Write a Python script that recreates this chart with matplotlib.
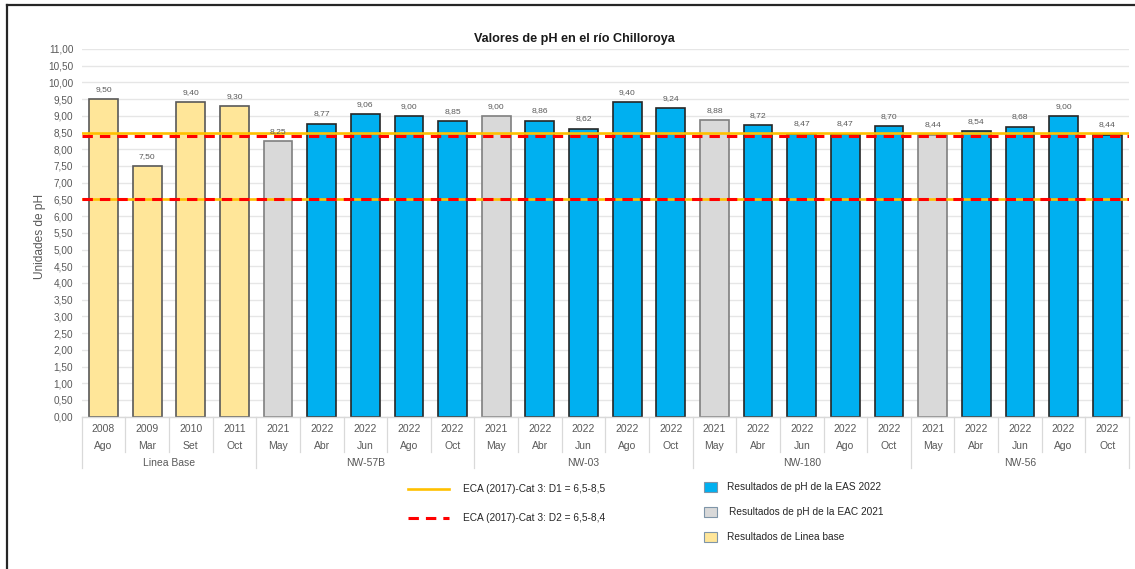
import matplotlib
matplotlib.use("Agg")
import matplotlib.pyplot as plt
from matplotlib.lines import Line2D
from matplotlib.patches import Rectangle
import numpy as np

plt.rcParams['font.family'] = ['Liberation Sans', 'DejaVu Sans']

# Data
groups = ["Linea Base", "NW-57B", "NW-03", "NW-180", "NW-56"]
group_sizes = [4, 5, 5, 5, 5]
years = ["2008", "2009", "2010", "2011",
         "2021", "2022", "2022", "2022", "2022",
         "2021", "2022", "2022", "2022", "2022",
         "2021", "2022", "2022", "2022", "2022",
         "2021", "2022", "2022", "2022", "2022"]
months = ["Ago", "Mar", "Set", "Oct",
          "May", "Abr", "Jun", "Ago", "Oct",
          "May", "Abr", "Jun", "Ago", "Oct",
          "May", "Abr", "Jun", "Ago", "Oct",
          "May", "Abr", "Jun", "Ago", "Oct"]
ph_values = [9.50, 7.50, 9.40, 9.30,
             8.25, 8.77, 9.06, 9.00, 8.85,
             9.00, 8.86, 8.62, 9.40, 9.24,
             8.88, 8.72, 8.47, 8.47, 8.70,
             8.44, 8.54, 8.68, 9.00, 8.44]
# Sampling campaign: 0 = baseline, 1 = EAC 2021, 2 = EAS 2022
campaign = [0, 0, 0, 0,
            1, 2, 2, 2, 2,
            1, 2, 2, 2, 2,
            1, 2, 2, 2, 2,
            1, 2, 2, 2, 2]
d1_low, d1_high = 6.5, 8.5
d2_low, d2_high = 6.5, 8.4

fill_colors = {0: "#FFE699", 1: "#D9D9D9", 2: "#00B0F0"}
edge_colors = {0: "#595959", 1: "#7F7F7F", 2: "#262626"}
legend_labels = {2: "Resultados de pH de la EAS 2022",
                 1: "Resultados de pH de la EAC 2021",
                 0: "Resultados de Linea base"}

W, H = 1135, 569
fig = plt.figure(figsize=(W / 100, H / 100), dpi=100)
fig.patch.set_facecolor("white")

def fx(px):
    return px / W

def fy(py):
    return 1 - py / H

ax_left, ax_right, ax_top, ax_bottom = 81.7, 1129, 49, 416.7
ax = fig.add_axes([fx(ax_left), fy(ax_bottom), fx(ax_right - ax_left),
                   (ax_bottom - ax_top) / H])
n = len(ph_values)
x = np.arange(n)
ax.set_xlim(-0.5, n - 0.5)
ax.set_ylim(0, 11)

# Gridlines
yticks = np.arange(0, 11.01, 0.5)
ax.set_yticks(yticks)
ax.set_yticklabels([f"{v:.2f}".replace(".", ",") for v in yticks],
                   fontsize=7.2, color="#595959")
ax.tick_params(axis="y", length=0, pad=6)
ax.set_xticks([])
ax.grid(axis="y", color="#E6E6E6", linewidth=1.0)
ax.set_axisbelow(True)
for s in ["top", "right", "left"]:
    ax.spines[s].set_visible(False)
ax.spines["bottom"].set_color("#D9D9D9")
ax.spines["bottom"].set_linewidth(1.0)

# Bars
for i in range(n):
    c = campaign[i]
    ax.bar(x[i], ph_values[i], width=0.66, color=fill_colors[c],
           edgecolor=edge_colors[c], linewidth=1.2, zorder=2)
    ax.annotate(f"{ph_values[i]:.2f}".replace(".", ","),
                (x[i], ph_values[i]), xytext=(0, 7), textcoords="offset points",
                ha="center", va="center", fontsize=6.1, color="#595959", zorder=5)

# ECA threshold lines
line_kw = dict(transform=ax.get_yaxis_transform(), zorder=4)
ax.plot([0, 1], [d1_high, d1_high], color="#FFC000", lw=1.9, **line_kw)
ax.plot([0, 1], [d1_low, d1_low], color="#FFC000", lw=1.9, **line_kw)
for yv in (d2_high, d2_low):
    ax.plot([0, 1], [yv, yv], color="#FF0000", lw=2.2,
            dashes=(3.4, 2.3), **line_kw)

# Multi-level category axis
xt = ax.get_xaxis_transform()
hpx = ax_bottom - ax_top

def ay(py):
    return (ax_bottom - py) / hpx

for i in range(n):
    ax.text(x[i], ay(429), years[i], transform=xt, ha="center", va="center",
            fontsize=7.5, color="#595959", clip_on=False)
    ax.text(x[i], ay(446), months[i], transform=xt, ha="center", va="center",
            fontsize=7.5, color="#595959", clip_on=False)

sep_color = "#D9D9D9"
starts = np.cumsum([0] + group_sizes)
group_edges = set(starts.tolist())
for k in range(n + 1):
    bottom = ay(468) if k in group_edges else ay(452)
    ax.add_line(Line2D([k - 0.5, k - 0.5], [0, bottom], transform=xt,
                       color=sep_color, lw=0.9, clip_on=False))
for g, name in enumerate(groups):
    cx = (starts[g] + starts[g + 1] - 1) / 2
    ax.text(cx, ay(463), name, transform=xt, ha="center", va="center",
            fontsize=7.5, color="#595959", clip_on=False)

# Title and axis label
fig.text(fx(574.5), fy(39), "Valores de pH en el río Chilloroya",
         ha="center", va="center", fontsize=9.1, fontweight="bold", color="#1a1a1a")
fig.text(fx(40), fy(236), "Unidades de pH", rotation=90, ha="center",
         va="center", fontsize=8.6, color="#595959")

# Legend: threshold lines
fig.add_artist(Line2D([fx(408), fx(449)], [fy(489), fy(489)],
                      color="#FFC000", lw=1.9))
fig.add_artist(Line2D([fx(408), fx(449)], [fy(518), fy(518)],
                      color="#FF0000", lw=2.2, dashes=(3.4, 2.3)))
fig.text(fx(463), fy(489), f"ECA (2017)-Cat 3: D1 = {d1_low:.1f}-{d1_high:.1f}".replace(".", ","),
         ha="left", va="center", fontsize=7.3, color="#262626")
fig.text(fx(463), fy(518), f"ECA (2017)-Cat 3: D2 = {d2_low:.1f}-{d2_high:.1f}".replace(".", ","),
         ha="left", va="center", fontsize=7.3, color="#262626")

# Legend: bar campaigns
for c, yy, tx in [(2, 487, 727), (1, 512, 729), (0, 537, 727)]:
    fig.add_artist(Rectangle((fx(703.5), fy(yy + 5)), fx(13.5), 10 / H,
                             facecolor=fill_colors[c], edgecolor="#7F95A8",
                             linewidth=0.8))
    fig.text(fx(tx), fy(yy), legend_labels[c], ha="left", va="center",
             fontsize=7.3, color="#262626")

# Outer frame
fig.add_artist(Line2D([fx(7), fx(7)], [fy(5), fy(575)], color="#262626", lw=1.6))
fig.add_artist(Line2D([fx(7), fx(1140)], [fy(5), fy(5)], color="#262626", lw=1.6))

fig.savefig("out.png", dpi=100, facecolor="white")
